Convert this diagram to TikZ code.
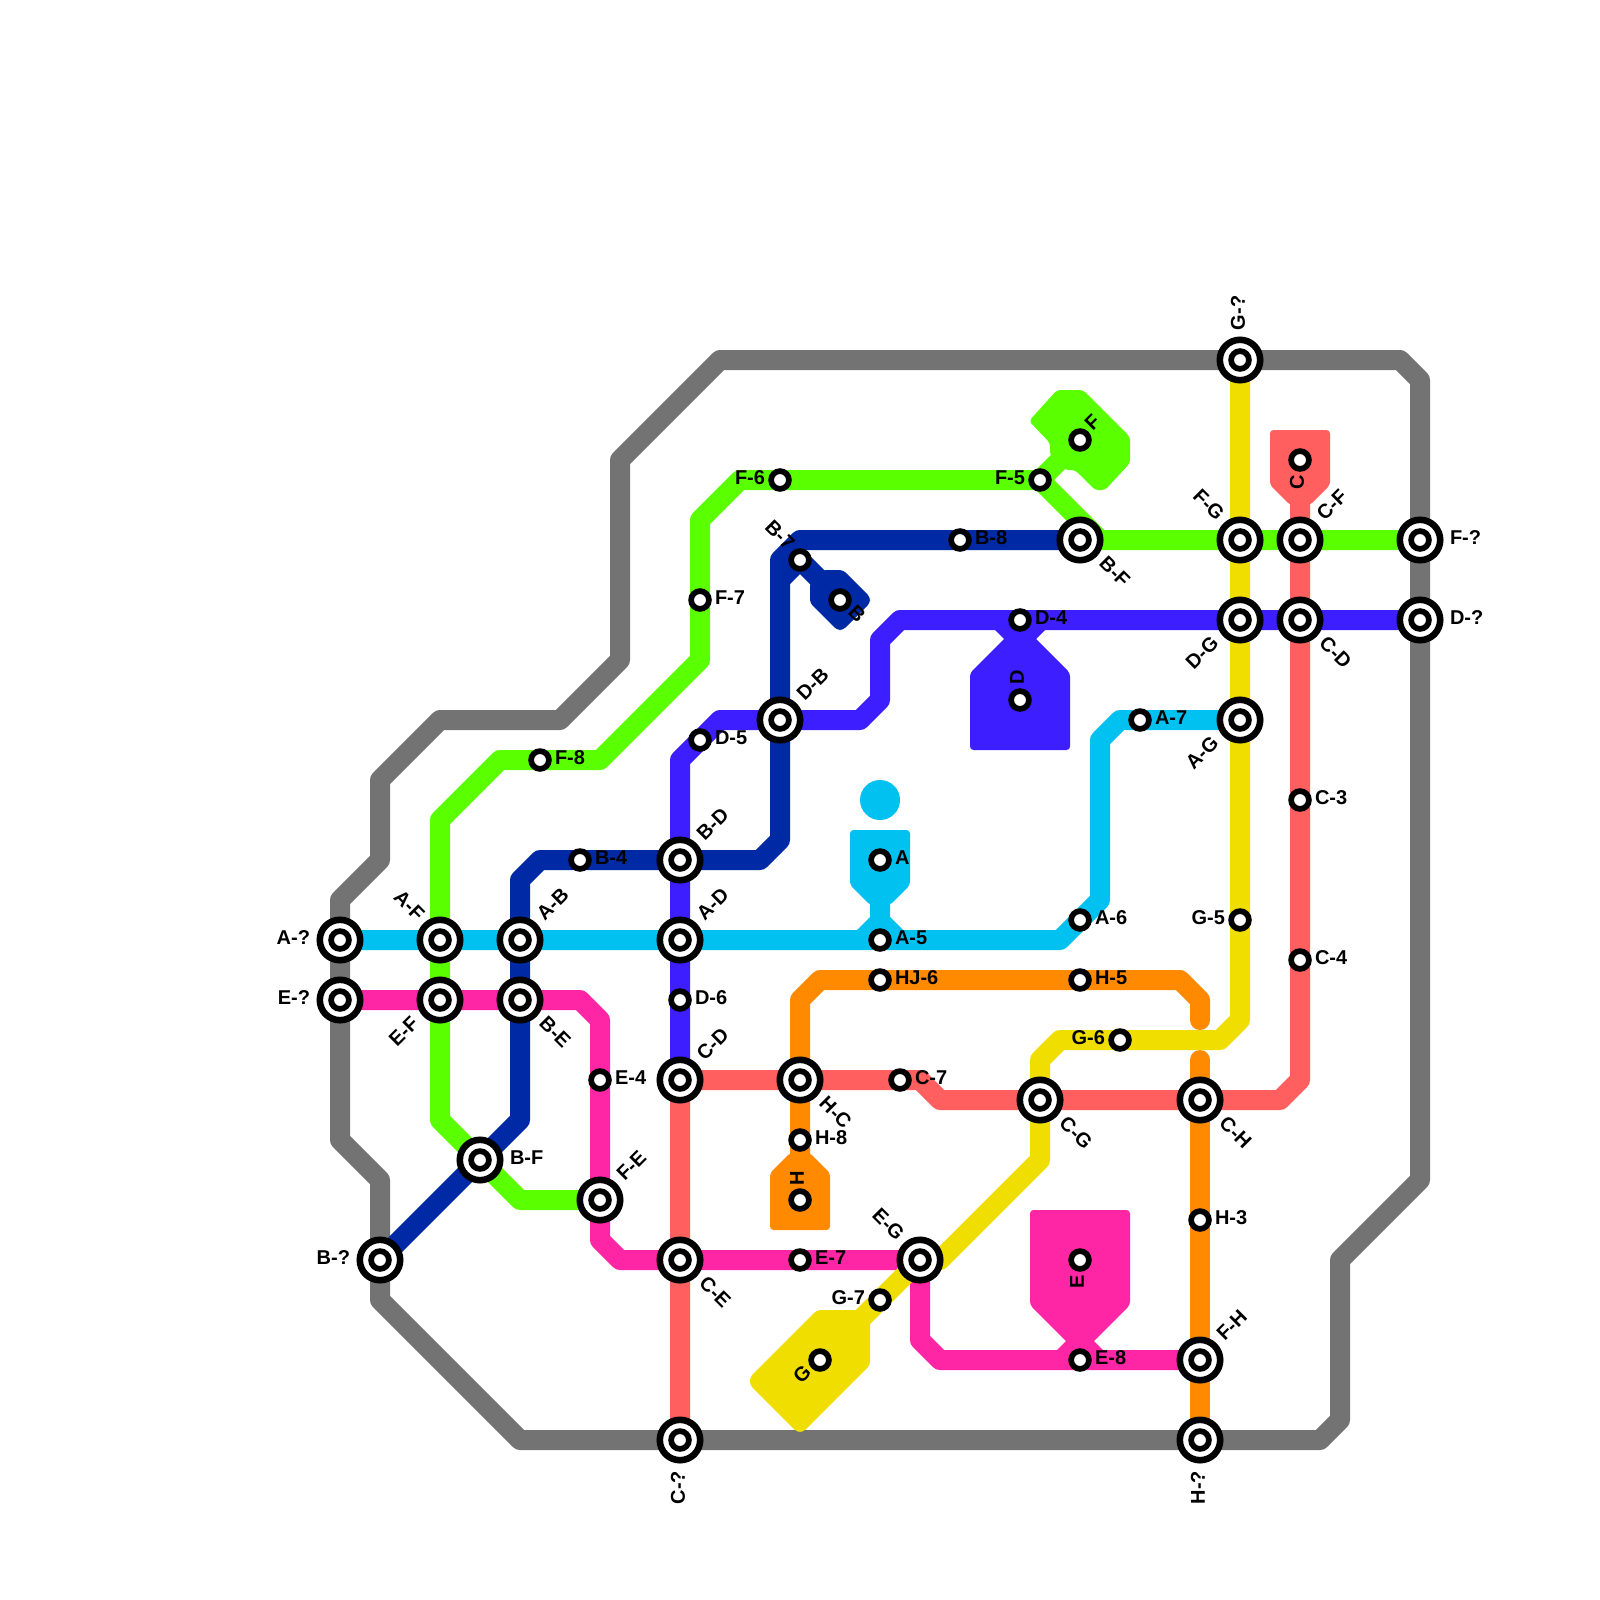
\documentclass[tikz,border=0pt]{standalone}
\usepackage{fontspec}
\setmainfont{Liberation Sans}
\usetikzlibrary{calc,backgrounds}
\definecolor{lgray}{HTML}{737373}
\definecolor{lcyan}{HTML}{00C1F0}
\definecolor{lpink}{HTML}{FF26A6}
\definecolor{lgreen}{HTML}{5AFF00}
\definecolor{lnavy}{HTML}{0029A6}
\definecolor{lviolet}{HTML}{3C1EFF}
\definecolor{lorange}{HTML}{FF8A00}
\definecolor{lyellow}{HTML}{F0DE00}
\definecolor{lsalmon}{HTML}{FF5F5F}
\tikzset{
  metro/.style={line width=20pt,line join=round,line cap=butt},
  blob/.style={rounded corners=3.5pt},
  bigst/.style={circle,draw=black,fill=white,line width=6.6pt,minimum size=40.4pt,inner sep=0pt},
  smallst/.style={circle,draw=black,fill=white,line width=5.7pt,minimum size=17.8pt,inner sep=0pt},
  lbl/.style={inner sep=0pt,outer sep=0pt,text=black,font=\fontsize{20}{24}\selectfont\bfseries}
}
\newcommand\bigstn[3]{\node[bigst] (#1) at (#2,#3) {}; \node[smallst] (#1i) at (#1) {};}
\newcommand\smst[3]{\node[smallst] (#1) at (#2,#3) {};}
% angle, anchor, station, dx, dy, text
\newcommand\lab[6]{\node[lbl,anchor=#2,rotate=#1] (l#3) at ($(#3)+(#4,#5)$) {#6};}
\begin{document}
\begin{tikzpicture}[x=1pt,y=-1pt]
\useasboundingbox (0,0) rectangle (1600,1600);
% large stations
\bigstn{AQ}{340}{940}\bigstn{EQ}{340}{1000}\bigstn{AF}{440}{940}\bigstn{EF}{440}{1000}
\bigstn{AB}{520}{940}\bigstn{BE}{520}{1000}\bigstn{BFa}{480}{1160}\bigstn{FE}{600}{1200}
\bigstn{BQ}{380}{1260}\bigstn{CE}{680}{1260}\bigstn{CDa}{680}{1080}\bigstn{AD}{680}{940}
\bigstn{BD}{680}{860}\bigstn{DB}{780}{720}\bigstn{CQ}{680}{1440}\bigstn{HC}{800}{1080}
\bigstn{EG}{920}{1260}\bigstn{CG}{1040}{1100}\bigstn{CH}{1200}{1100}\bigstn{FH}{1200}{1360}
\bigstn{HQ}{1200}{1440}\bigstn{GQ}{1240}{360}\bigstn{BFb}{1080}{540}\bigstn{FG}{1240}{540}
\bigstn{CF}{1300}{540}\bigstn{FQ}{1420}{540}\bigstn{DG}{1240}{620}\bigstn{CDb}{1300}{620}
\bigstn{DQ}{1420}{620}\bigstn{AG}{1240}{720}
% small stations
\smst{Fs}{780}{480}\smst{Ff}{1040}{480}\smst{F}{1080}{440}\smst{C}{1300}{460}
\smst{Be}{960}{540}\smst{Bs}{800}{560}\smst{B}{840}{600}\smst{Fv}{700}{600}
\smst{Dd}{1020}{620}\smst{D}{1020}{700}\smst{Av}{1140}{720}\smst{Dv}{700}{740}
\smst{Fe}{540}{760}\smst{Ct}{1300}{800}\smst{Bd}{580}{860}\smst{A}{880}{860}
\smst{As}{1080}{920}\smst{Gf}{1240}{920}\smst{Af}{880}{940}\smst{Cd}{1300}{960}
\smst{HJ}{880}{980}\smst{Hf}{1080}{980}\smst{Ds}{680}{1000}\smst{Gs}{1120}{1040}
\smst{Ed}{600}{1080}\smst{Cs}{900}{1080}\smst{He}{800}{1140}\smst{H}{800}{1200}
\smst{Ht}{1200}{1220}\smst{E}{1080}{1260}\smst{Es}{800}{1260}\smst{Gv}{880}{1300}
\smst{G}{820}{1360}\smst{Ee}{1080}{1360}
\begin{pgfonlayer}{background}
\fill[white] (0,0) rectangle (1600,1600);
% gray outline
\draw[metro,lgray] (720,360) -- (GQ.center) -- (1400,360) -- (1420,380) -- (FQ.center) -- (DQ.center) -- (1420,1180) -- (1340,1260) -- (1340,1420) -- (1320,1440) -- (HQ.center) -- (CQ.center) -- (520,1440) -- (380,1300) -- (BQ.center) -- (380,1180) -- (340,1140) -- (EQ.center) -- (AQ.center) -- (340,900) -- (380,860) -- (380,780) -- (440,720) -- (560,720) -- (620,660) -- (620,460) -- cycle;
% cyan
\fill[lcyan] (880,800) circle (20);
\fill[lcyan,blob] (850,830) -- (910,830) -- (910,885) -- (890,905) -- (870,905) -- (850,885) -- cycle;
\fill[lcyan] (870,895) -- (890,895) -- (890,917) -- (903,930) -- (857,930) -- (870,917) -- cycle;
\draw[metro,lcyan] (AQ.center) -- (AF.center) -- (AB.center) -- (AD.center) -- (Af.center) -- (1060,940) -- (As.center) -- (1100,900) -- (1100,740) -- (1120,720) -- (Av.center) -- (AG.center);
% navy
\fill[lnavy,blob] (823,570) -- (843,570) -- (870,597) -- (870,603) -- (843,630) -- (837,630) -- (810,603) -- (810,583) -- cycle;
\draw[metro,lnavy] (BQ.center) -- (BFa.center) -- (520,1120) -- (BE.center) -- (AB.center) -- (520,880) -- (540,860) -- (Bd.center) -- (BD.center) -- (760,860) -- (780,840) -- (DB.center) -- (780,560) -- (800,540) -- (Be.center) -- (BFb.center);
\draw[metro,lnavy] (780,580) -- (Bs.center) -- (B.center);
% green
\fill[lgreen,blob] (1057,390) -- (1083,390) -- (1130,437) -- (1130,463) -- (1105,490) -- (1095,490) -- (1075,470) -- (1065,470) -- (1050,455) -- (1050,443) -- (1029,421) -- cycle;
\draw[metro,lgreen] (FE.center) -- (520,1200) -- (BFa.center) -- (440,1120) -- (EF.center) -- (AF.center) -- (440,820) -- (500,760) -- (Fe.center) -- (600,760) -- (700,660) -- (Fv.center) -- (700,520) -- (740,480) -- (Fs.center) -- (Ff.center) -- (1100,540) -- (FG.center) -- (CF.center) -- (FQ.center);
\draw[metro,lgreen] (Ff.center) -- (F.center);
% violet
\fill[lviolet,blob] (970,750) -- (1070,750) -- (1070,673) -- (1030,633) -- (1010,633) -- (970,673) -- cycle;
\fill[lviolet] (1005,640) -- (995,630) -- (1045,630) -- (1035,640) -- cycle;
\draw[metro,lviolet] (CDa.center) -- (Ds.center) -- (AD.center) -- (BD.center) -- (680,760) -- (Dv.center) -- (720,720) -- (DB.center) -- (860,720) -- (880,700) -- (880,640) -- (900,620) -- (Dd.center) -- (DG.center) -- (CDb.center) -- (DQ.center);
\draw[metro,lviolet] (Dd.center) -- (D.center);
% pink
\fill[lpink,blob] (1030,1210) -- (1130,1210) -- (1130,1305) -- (1085,1350) -- (1075,1350) -- (1030,1305) -- cycle;
\fill[lpink] (1067,1340) -- (1093,1340) -- (1103,1350) -- (1057,1350) -- cycle;
\draw[metro,lpink] (EQ.center) -- (EF.center) -- (BE.center) -- (580,1000) -- (600,1020) -- (Ed.center) -- (FE.center) -- (600,1240) -- (620,1260) -- (CE.center) -- (Es.center) -- (EG.center) -- (920,1340) -- (940,1360) -- (Ee.center) -- (FH.center);
% orange
\fill[lorange,blob] (770,1230) -- (830,1230) -- (830,1173) -- (810,1153) -- (790,1153) -- (770,1173) -- cycle;
\draw[metro,lorange] (H.center) -- (He.center) -- (HC.center) -- (800,1000) -- (820,980) -- (HJ.center) -- (Hf.center) -- (1180,980) -- (1200,1000) -- (1200,1020);
\fill[lorange] (1200,1020) circle (10);
\draw[metro,lorange] (1200,1060) -- (CH.center) -- (Ht.center) -- (FH.center) -- (HQ.center);
\fill[lorange] (1200,1060) circle (10);
% salmon
\fill[lsalmon,blob] (1270,430) -- (1330,430) -- (1330,485) -- (1310,505) -- (1290,505) -- (1270,485) -- cycle;
\draw[metro,lsalmon] (CQ.center) -- (CE.center) -- (CDa.center) -- (HC.center) -- (Cs.center) -- (920,1080) -- (940,1100) -- (CG.center) -- (CH.center) -- (1280,1100) -- (1300,1080) -- (Cd.center) -- (Ct.center) -- (CDb.center) -- (CF.center) -- (C.center);
% yellow
\fill[lyellow,blob] (817,1310) -- (860,1310) -- (870,1320) -- (870,1365) -- (803,1432) -- (797,1432) -- (750,1385) -- (750,1377) -- cycle;
\draw[metro,lyellow] (860,1320) -- (Gv.center) -- (EG.center) -- (940,1260) -- (1040,1160) -- (CG.center) -- (1040,1060) -- (1060,1040) -- (Gs.center) -- (1220,1040) -- (1240,1020) -- (Gf.center) -- (AG.center) -- (DG.center) -- (FG.center) -- (GQ.center);
\end{pgfonlayer}
% labels large
\lab{0}{east}{AQ}{-30}{-2}{A-?}
\lab{0}{east}{EQ}{-30}{-2}{E-?}
\lab{0}{east}{BQ}{-30}{-2}{B-?}
\lab{0}{west}{BFa}{30}{-2}{B-F}
\lab{0}{west}{FQ}{30}{-2}{F-?}
\lab{0}{west}{DQ}{30}{-2}{D-?}
\lab{-45}{east}{AF}{-19}{-23}{A-F}
\lab{-45}{east}{FG}{-19}{-23}{F-G}
\lab{-45}{east}{EG}{-19}{-23}{E-G}
\lab{45}{east}{EF}{-25}{20}{E-F}
\lab{45}{east}{DG}{-25}{20}{D-G}
\lab{45}{east}{AG}{-25}{20}{A-G}
\lab{45}{west}{AB}{20}{-23}{A-B}
\lab{45}{west}{BD}{20}{-23}{B-D}
\lab{45}{west}{AD}{20}{-23}{A-D}
\lab{45}{west}{DB}{20}{-23}{D-B}
\lab{45}{west}{CDa}{20}{-23}{C-D}
\lab{45}{west}{FE}{20}{-23}{F-E}
\lab{45}{west}{CF}{20}{-23}{C-F}
\lab{45}{west}{FH}{20}{-23}{F-H}
\lab{-45}{west}{BE}{23}{20}{B-E}
\lab{-45}{west}{CE}{23}{20}{C-E}
\lab{-45}{west}{HC}{23}{20}{H-C}
\lab{-45}{west}{CG}{23}{20}{C-G}
\lab{-45}{west}{CH}{23}{20}{C-H}
\lab{-45}{west}{BFb}{23}{20}{B-F}
\lab{-45}{west}{CDb}{23}{20}{C-D}
\lab{90}{east}{CQ}{-2}{31}{C-?}
\lab{90}{east}{HQ}{-2}{31}{H-?}
\lab{90}{west}{GQ}{-2}{-30}{G-?}
% labels small
\lab{0}{east}{Fs}{-15}{-2}{F-6}
\lab{0}{east}{Ff}{-15}{-2}{F-5}
\lab{0}{east}{Gf}{-15}{-2}{G-5}
\lab{0}{east}{Gs}{-15}{-2}{G-6}
\lab{0}{east}{Gv}{-15}{-2}{G-7}
\lab{0}{west}{Be}{15}{-2}{B-8}
\lab{0}{west}{Fv}{15}{-2}{F-7}
\lab{0}{west}{Dd}{15}{-2}{D-4}
\lab{0}{west}{Av}{15}{-2}{A-7}
\lab{0}{west}{Dv}{15}{-2}{D-5}
\lab{0}{west}{Fe}{15}{-2}{F-8}
\lab{0}{west}{Ct}{15}{-2}{C-3}
\lab{0}{west}{Bd}{15}{-2}{B-4}
\lab{0}{west}{A}{15}{-2}{A}
\lab{0}{west}{As}{15}{-2}{A-6}
\lab{0}{west}{Af}{15}{-2}{A-5}
\lab{0}{west}{Cd}{15}{-2}{C-4}
\lab{0}{west}{HJ}{15}{-2}{HJ-6}
\lab{0}{west}{Hf}{15}{-2}{H-5}
\lab{0}{west}{Ds}{15}{-2}{D-6}
\lab{0}{west}{Ed}{15}{-2}{E-4}
\lab{0}{west}{Cs}{15}{-2}{C-7}
\lab{0}{west}{He}{15}{-2}{H-8}
\lab{0}{west}{Ht}{15}{-2}{H-3}
\lab{0}{west}{Es}{15}{-2}{E-7}
\lab{0}{west}{Ee}{15}{-2}{E-8}
\lab{90}{west}{D}{-3}{-16}{D}
\lab{90}{west}{H}{-3}{-15}{H}
\lab{90}{east}{C}{-3}{15}{C}
\lab{90}{east}{E}{-3}{15}{E}
\lab{45}{west}{F}{8}{-13}{F}
\lab{45}{east}{G}{-12.5}{8.5}{G}
\lab{-45}{west}{B}{12}{9}{B}
\lab{-45}{east}{Bs}{-8.6}{-13.6}{B-7}
\end{tikzpicture}
\end{document}
